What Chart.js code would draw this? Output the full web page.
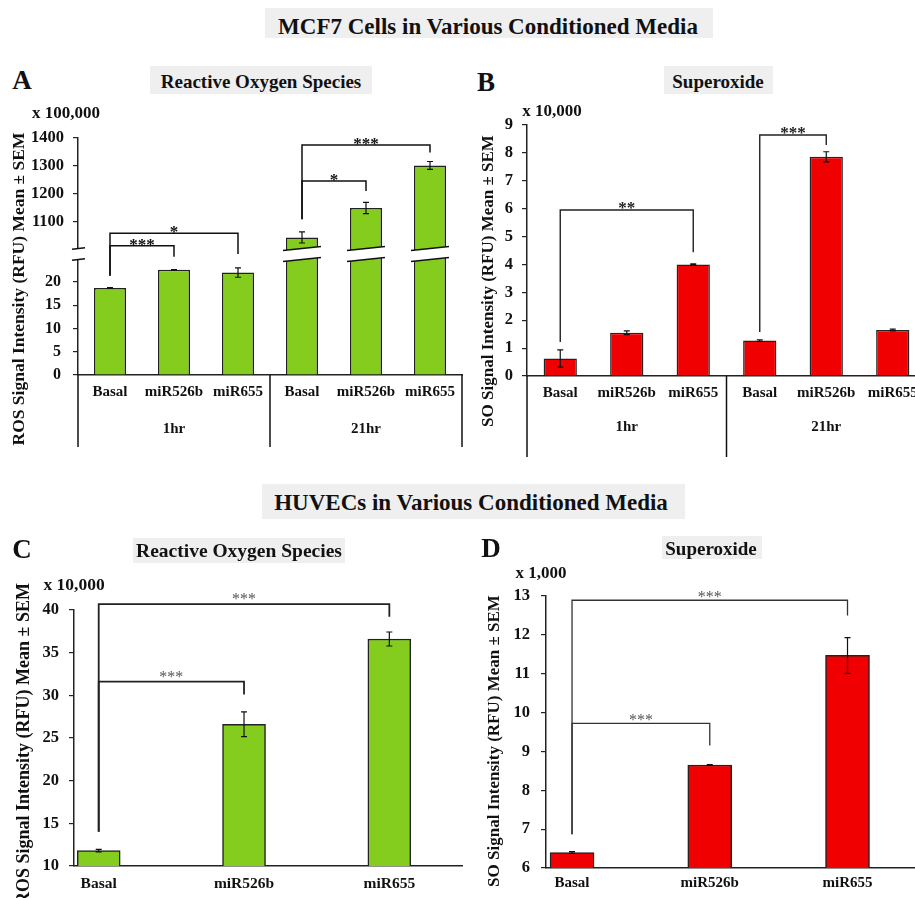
<!DOCTYPE html>
<html>
<head>
<meta charset="utf-8">
<script src="https://cdn.jsdelivr.net/npm/chart.js@4.4.0/dist/chart.umd.min.js"></script>
<style>
  html, body { margin: 0; padding: 0; background: #fff; }
  body {
    width: 915px; height: 898px; position: relative; overflow: hidden;
    font-family: 'Liberation Serif', 'Times New Roman', serif; font-weight: bold; color: #111;
  }
  canvas { position: absolute; }
  .box { position: absolute; background: #efefef; }
  .t {
    position: absolute; white-space: nowrap; line-height: 1;
    transform: translate(-50%, -50%);
  }
  .v { transform: translate(-50%, -50%) rotate(-90deg); }
</style>
</head>
<body>
<!-- fondos de los títulos -->
<div class="box" style="left:265px;top:8px;width:448px;height:30px"></div>
<div class="box" style="left:262px;top:484px;width:423px;height:35px"></div>
<div class="box" style="left:150px;top:66px;width:222px;height:28px"></div>
<div class="box" style="left:664px;top:66px;width:109px;height:28px"></div>
<div class="box" style="left:133px;top:538px;width:212px;height:25px"></div>
<div class="box" style="left:662px;top:536px;width:100px;height:23px"></div>

<canvas id="chartA" width="470" height="360" style="left:0;top:100px"></canvas>
<canvas id="chartB" width="470" height="360" style="left:470px;top:100px"></canvas>
<canvas id="chartC" width="470" height="338" style="left:0;top:560px"></canvas>
<canvas id="chartD" width="445" height="338" style="left:470px;top:560px"></canvas>

<div class="t" style="left:488px;top:26px;font-size:23px">MCF7 Cells in Various Conditioned Media</div>
<div class="t" style="left:471px;top:502px;font-size:23px">HUVECs in Various Conditioned Media</div>

<div class="t" style="left:22px;top:80px;font-size:27px">A</div>
<div class="t" style="left:486px;top:82px;font-size:27px">B</div>
<div class="t" style="left:22px;top:549px;font-size:27px">C</div>
<div class="t" style="left:491px;top:548px;font-size:27px">D</div>

<div class="t" style="left:261px;top:81px;font-size:19px">Reactive Oxygen Species</div>
<div class="t" style="left:718px;top:81px;font-size:19px">Superoxide</div>
<div class="t" style="left:239px;top:551px;font-size:19.5px">Reactive Oxygen Species</div>
<div class="t" style="left:711px;top:548px;font-size:19px">Superoxide</div>

<div class="t" style="left:66px;top:112px;font-size:17px">x 100,000</div>
<div class="t" style="left:552px;top:110px;font-size:17px">x 10,000</div>
<div class="t" style="left:74px;top:585px;font-size:17.5px">x 10,000</div>
<div class="t" style="left:541px;top:572px;font-size:17px">x 1,000</div>

<div class="t v" style="left:19px;top:289px;font-size:17.5px">ROS Signal Intensity (RFU) Mean ± SEM</div>
<div class="t v" style="left:487px;top:281px;font-size:17px">SO Signal Intensity (RFU) Mean ± SEM</div>
<div class="t v" style="left:23px;top:744px;font-size:18px">ROS Signal Intensity (RFU) Mean ± SEM</div>
<div class="t v" style="left:493px;top:741px;font-size:17px">SO Signal Intensity (RFU) Mean ± SEM</div>

<script>
// MCF7: categorías y grupos de tiempo
const mcfLabels = ["Basal", "miR526b", "miR655", "Basal", "miR526b", "miR655"];
const mcfTimes = ["1hr", "21hr"];
// MCF7 ROS (x 100,000) y su SEM
const mcfRos = [18.7, 22.6, 22.0, 1045, 1150, 1302];
const mcfRosErr = [0.1, 0.05, 1.0, 20, 20, 14];
// MCF7 superóxido (x 10,000) y su SEM
const mcfSo = [0.63, 1.55, 4.0, 1.27, 7.86, 1.65];
const mcfSoErr = [0.31, 0.07, 0.02, 0.03, 0.18, 0.03];

// HUVEC: categorías, ROS (x 10,000) y superóxido (x 1,000)
const huvLabels = ["Basal", "miR526b", "miR655"];
const huvRos = [11.8, 26.6, 36.6];
const huvRosErr = [0.15, 1.45, 0.82];
const huvSo = [6.4, 8.65, 11.47];
const huvSoErr = [0.02, 0.01, 0.46];

// Marcas de los ejes
const rosLowTicks = [0, 5, 10, 15, 20];
const rosHighTicks = [1100, 1200, 1300, 1400];
const soTicksB = [0, 1, 2, 3, 4, 5, 6, 7, 8, 9];
const rosTicksC = [10, 15, 20, 25, 30, 35, 40];
const soTicksD = [6, 7, 8, 9, 10, 11, 12, 13];

// Corchetes de significancia: desde, hasta, altura, base izq., base der., texto
const sigA = [
  [0, 2, 1060, 21.3, 986, "*"],
  [0, 1, 1015, 21.3, 976, "***"],
  [3, 5, 1375, 1110, 1348, "***"],
  [3, 4, 1246, 1110, 1211, "*"],
];
const sigB = [
  [0, 2, 5.95, 1.22, 4.44, "**"],
  [3, 4, 8.64, 1.58, 8.28, "***"],
];
const sigC = [
  [0, 2, 40.7, 14.0, 39.2, "***"],
  [0, 1, 31.6, 14.0, 30.1, "***"],
];
const sigD = [
  [0, 2, 12.89, 6.87, 12.5, "***"],
  [0, 1, 9.72, 6.87, 9.15, "***"],
];

// Límites del eje cortado del panel A
const A_LOW_MAX = 26;
const A_HIGH_MIN = 985.7;

const FONT = "'Liberation Serif', 'Times New Roman', serif";
const GREEN = "#84cc1e";
const RED = "#f00000";
const INK = "#111";

// Eje Y con ancho fijo y marcas fijas
function yAxis(ticks, width, size, pad, extra) {
  return Object.assign({
    position: "left",
    min: ticks[0],
    max: ticks[ticks.length - 1],
    afterBuildTicks: (s) => { s.ticks = ticks.map((v) => ({ value: v })); },
    afterFit: (s) => { s.width = width; },
    grid: { drawOnChartArea: false, drawTicks: true, tickLength: 5, color: "#222", lineWidth: 1.2 },
    border: { color: "#222", width: 1.5 },
    ticks: { color: INK, padding: pad, autoSkip: false, callback: (v) => String(v),
      font: { family: FONT, size: size, weight: "bold" } },
  }, extra || {});
}

// Eje X de categorías (paneles A y B)
function catAxis(height, pad) {
  return {
    type: "category",
    offset: true,
    afterFit: (s) => { s.height = height; },
    grid: { display: false, drawTicks: false },
    border: { color: "#222", width: 1.5 },
    ticks: { color: INK, padding: pad, maxRotation: 0, autoSkip: false,
      font: { family: FONT, size: 15, weight: "bold" } },
  };
}

// Eje X lineal con etiquetas de categoría (paneles C y D)
function linAxis(labels, min, max, height, pad, size) {
  return {
    type: "linear",
    min: min,
    max: max,
    offset: false,
    afterBuildTicks: (s) => { s.ticks = labels.map((c, i) => ({ value: i })); },
    afterFit: (s) => { s.height = height; },
    grid: { display: false, drawTicks: false },
    border: { color: "#222", width: 1.5 },
    ticks: { color: INK, padding: pad, maxRotation: 0, autoSkip: false,
      callback: (v) => labels[v],
      font: { family: FONT, size: size, weight: "bold" } },
  };
}

// Marca de corte inclinada (rellena en blanco y dos líneas)
function drawBreak(ctx, x1, x2, yb) {
  const xc = (x1 + x2) / 2;
  const f = (xx, off) => yb + off + (xx - xc) * -0.111;
  ctx.fillStyle = "#fff";
  ctx.beginPath();
  ctx.moveTo(x1, f(x1, -5.5));
  ctx.lineTo(x2, f(x2, -5.5));
  ctx.lineTo(x2, f(x2, 5.5));
  ctx.lineTo(x1, f(x1, 5.5));
  ctx.closePath();
  ctx.fill();
  ctx.strokeStyle = INK;
  ctx.lineWidth = 1.5;
  [-5.5, 5.5].forEach((off) => {
    ctx.beginPath();
    ctx.moveTo(x1, f(x1, off));
    ctx.lineTo(x2, f(x2, off));
    ctx.stroke();
  });
}

// Plugin: barras de error, corchetes, cortes y grupos
function annotations(o) {
  return {
    id: "annotations",
    afterDraw(chart) {
      const ctx = chart.ctx;
      const xs = chart.scales.x;
      const px = (i) => xs.getPixelForValue(i);
      const py = (v) => o.yPx(chart, v);
      const area = chart.chartArea;
      ctx.save();

      // eje cortado
      if (o.broken) {
        const yb = chart.scales.yLow.top;
        const meta = chart.getDatasetMeta(0);
        o.means.forEach((m, i) => {
          if (m > A_LOW_MAX) {
            const el = meta.data[i];
            drawBreak(ctx, el.x - el.width / 2 - 3, el.x + el.width / 2 + 3, yb);
          }
        });
        const ax = chart.scales.yLow.right;
        drawBreak(ctx, ax - 6, ax + 7, yb);
      }

      // barras de error
      ctx.strokeStyle = INK;
      ctx.lineWidth = 1.2;
      o.means.forEach((m, i) => {
        const x = px(i);
        const y1 = py(m - o.errs[i]);
        const y2 = py(m + o.errs[i]);
        ctx.beginPath();
        ctx.moveTo(x, y1); ctx.lineTo(x, y2);
        ctx.moveTo(x - 3, y1); ctx.lineTo(x + 3, y1);
        ctx.moveTo(x - 3, y2); ctx.lineTo(x + 3, y2);
        ctx.stroke();
      });

      // corchetes de significancia
      o.sig.forEach(([a, b, top, baseA, baseB, txt]) => {
        ctx.strokeStyle = o.sigColor;
        ctx.lineWidth = o.sigWidth;
        ctx.beginPath();
        ctx.moveTo(px(a), py(baseA));
        ctx.lineTo(px(a), py(top));
        ctx.lineTo(px(b), py(top));
        ctx.lineTo(px(b), py(baseB));
        ctx.stroke();
        ctx.fillStyle = o.starColor;
        ctx.font = o.starFont;
        ctx.textAlign = "center";
        ctx.textBaseline = "alphabetic";
        ctx.fillText(txt, (px(a) + px(b)) / 2, py(top) + o.starDy);
      });

      // separadores y etiquetas de grupo (1hr / 21hr)
      if (o.groups) {
        const b = area.bottom;
        ctx.strokeStyle = INK;
        ctx.lineWidth = 1.5;
        for (let g = 0; g <= o.groups.labels.length; g++) {
          const x = px(g * 3 - 0.5);
          ctx.beginPath();
          ctx.moveTo(x, b);
          ctx.lineTo(x, b + o.groups.depth);
          ctx.stroke();
        }
        ctx.fillStyle = INK;
        ctx.font = "bold 15px " + FONT;
        ctx.textAlign = "center";
        ctx.textBaseline = "middle";
        o.groups.labels.forEach((t, g) => {
          ctx.fillText(t, px(g * 3 + 1), b + o.groups.labelDy);
        });
      }
      ctx.restore();
    },
  };
}

const baseOptions = {
  responsive: false,
  animation: false,
  plugins: { legend: { display: false }, tooltip: { enabled: false } },
};

// Panel A: ROS en MCF7 con eje cortado
new Chart(document.getElementById("chartA"), {
  type: "bar",
  data: {
    labels: mcfLabels,
    datasets: [
      {
        data: mcfRos.map((v) => Math.min(v, A_LOW_MAX)),
        yAxisID: "yLow",
        grouped: false,
        backgroundColor: GREEN, borderColor: "#222", borderWidth: 1.5,
        barPercentage: 0.5, categoryPercentage: 1.0,
      },
      {
        data: mcfRos.map((v) => (v > A_LOW_MAX ? v : null)),
        yAxisID: "yHigh",
        grouped: false,
        backgroundColor: GREEN, borderColor: "#222", borderWidth: 1.5,
        barPercentage: 0.5, categoryPercentage: 1.0,
      },
    ],
  },
  options: Object.assign({}, baseOptions, {
    layout: { padding: { top: 38, right: 8, left: 0, bottom: 0 } },
    scales: {
      x: catAxis(85, 8),
      yLow: yAxis(rosLowTicks, 78, 16, 12, { stack: "ros", stackWeight: 121, max: A_LOW_MAX }),
      yHigh: yAxis(rosHighTicks, 78, 16.5, 9, { stack: "ros", stackWeight: 116, min: A_HIGH_MIN }),
    },
  }),
  plugins: [annotations({
    broken: true,
    means: mcfRos, errs: mcfRosErr, sig: sigA,
    yPx: (c, v) => (v <= A_LOW_MAX ? c.scales.yLow : c.scales.yHigh).getPixelForValue(v),
    sigColor: INK, sigWidth: 1.5, starColor: INK, starFont: "bold 17px " + FONT, starDy: 4,
    groups: { labels: mcfTimes, depth: 72, labelDy: 54 },
  })],
});

// Panel B: superóxido en MCF7
new Chart(document.getElementById("chartB"), {
  type: "bar",
  data: {
    labels: mcfLabels,
    datasets: [{
      data: mcfSo,
      backgroundColor: RED, borderColor: "#222", borderWidth: 1.5,
      barPercentage: 0.5, categoryPercentage: 1.0,
    }],
  },
  options: Object.assign({}, baseOptions, {
    layout: { padding: { top: 25, right: 14, left: 0, bottom: 0 } },
    scales: { x: catAxis(84, 8), y: yAxis(soTicksB, 57, 16.5, 9) },
  }),
  plugins: [annotations({
    means: mcfSo, errs: mcfSoErr, sig: sigB,
    yPx: (c, v) => c.scales.y.getPixelForValue(v),
    sigColor: "#222", sigWidth: 1.4, starColor: "#222", starFont: "bold 17px " + FONT, starDy: 3,
    groups: { labels: mcfTimes, depth: 81, labelDy: 51 },
  })],
});

// Panel C: ROS en HUVEC
new Chart(document.getElementById("chartC"), {
  type: "bar",
  data: {
    datasets: [{
      data: huvRos.map((v, i) => ({ x: i, y: v })),
      backgroundColor: GREEN, borderColor: "#222", borderWidth: 1.5,
      barThickness: 43,
    }],
  },
  options: Object.assign({}, baseOptions, {
    layout: { padding: { top: 50, right: 8, left: 0, bottom: 0 } },
    scales: {
      x: linAxis(huvLabels, -0.17, 2.5, 32, 8.5, 15.5),
      y: yAxis(rosTicksC, 74, 16.5, 10),
    },
  }),
  plugins: [annotations({
    means: huvRos, errs: huvRosErr, sig: sigC,
    yPx: (c, v) => c.scales.y.getPixelForValue(v),
    sigColor: "#222", sigWidth: 1.8, starColor: "#555", starFont: "16px " + FONT, starDy: 0,
  })],
});

// Panel D: superóxido en HUVEC
new Chart(document.getElementById("chartD"), {
  type: "bar",
  data: {
    datasets: [{
      data: huvSo.map((v, i) => ({ x: i, y: v })),
      backgroundColor: RED, borderColor: "#222", borderWidth: 1.5,
      barThickness: 44,
    }],
  },
  options: Object.assign({}, baseOptions, {
    layout: { padding: { top: 36, right: 0, left: 0, bottom: 0 } },
    scales: {
      x: linAxis(huvLabels, -0.189, 2.49, 30, 6, 15),
      y: yAxis(soTicksD, 76, 16.5, 11),
    },
  }),
  plugins: [annotations({
    means: huvSo, errs: huvSoErr, sig: sigD,
    yPx: (c, v) => c.scales.y.getPixelForValue(v),
    sigColor: "#333", sigWidth: 1.3, starColor: "#555", starFont: "16px " + FONT, starDy: 1.5,
  })],
});
</script>
</body>
</html>
